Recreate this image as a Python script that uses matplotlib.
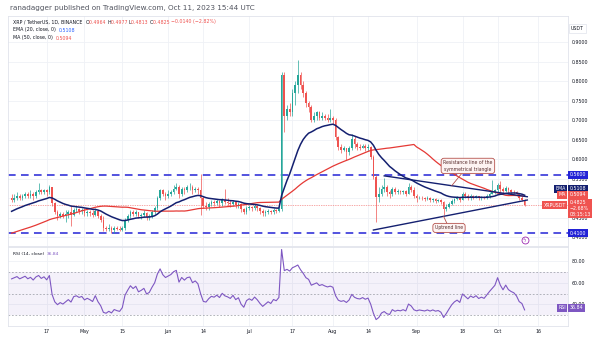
import matplotlib
matplotlib.use("Agg")
import matplotlib.pyplot as plt
import matplotlib.dates as mdates
import matplotlib.transforms as mtransforms
import numpy as np
import pandas as pd

# closes Feb 14 - Apr 3 2023, only used to warm up EMA / MA / RSI
warmup_close = [
    0.385, 0.395, 0.390, 0.395, 0.395, 0.400, 0.395, 0.390, 0.385, 0.385, 0.380, 0.375, 0.380, 0.375, 0.375,
    0.380, 0.375, 0.370, 0.375, 0.375, 0.380, 0.375, 0.370, 0.360, 0.355, 0.360, 0.370, 0.370, 0.375, 0.370, 0.375,
    0.385, 0.390, 0.400, 0.420, 0.450, 0.440, 0.455, 0.440, 0.445, 0.450, 0.440, 0.470, 0.530, 0.520, 0.535,
    0.520, 0.510, 0.500,
]

# daily XRP/USDT candles Apr 4 - Oct 11 2023 (open = previous close)
close = [
    # Apr 4-30
    0.495, 0.500, 0.505, 0.500, 0.505, 0.510, 0.505, 0.510, 0.505, 0.515, 0.520, 0.515, 0.520, 0.515, 0.528,
    0.488, 0.465, 0.455, 0.460, 0.455, 0.460, 0.465, 0.458, 0.470, 0.472, 0.468, 0.470,
    # May
    0.462, 0.465, 0.462, 0.458, 0.468, 0.455, 0.445, 0.425, 0.422, 0.425, 0.420, 0.425, 0.422, 0.420, 0.425,
    0.445, 0.455, 0.465, 0.460, 0.465, 0.455, 0.458, 0.462, 0.452, 0.455, 0.465, 0.475, 0.500, 0.520, 0.510, 0.505,
    # Jun
    0.510, 0.515, 0.525, 0.530, 0.510, 0.525, 0.520, 0.528, 0.530, 0.520, 0.525, 0.520, 0.500, 0.480, 0.478,
    0.485, 0.490, 0.488, 0.492, 0.487, 0.495, 0.490, 0.488, 0.485, 0.490, 0.482, 0.485, 0.472, 0.465, 0.475,
    # Jul
    0.478, 0.475, 0.480, 0.475, 0.468, 0.462, 0.465, 0.468, 0.465, 0.470, 0.468, 0.472, 0.816, 0.710, 0.730,
    0.720, 0.770, 0.790, 0.815, 0.790, 0.770, 0.745, 0.735, 0.700, 0.710, 0.720, 0.705, 0.712, 0.705, 0.700, 0.705,
    # Aug
    0.700, 0.658, 0.632, 0.625, 0.628, 0.618, 0.628, 0.652, 0.638, 0.632, 0.630, 0.635, 0.628, 0.632, 0.606,
    0.555, 0.503, 0.510, 0.525, 0.530, 0.515, 0.510, 0.525, 0.515, 0.518, 0.515, 0.518, 0.512, 0.530, 0.522, 0.505,
    # Sep
    0.500, 0.502, 0.500, 0.498, 0.500, 0.496, 0.498, 0.494, 0.495, 0.490, 0.472, 0.478, 0.485, 0.492, 0.497,
    0.500, 0.495, 0.510, 0.505, 0.500, 0.505, 0.502, 0.505, 0.500, 0.502, 0.500, 0.505, 0.510, 0.515, 0.520,
    # Oct 1-11
    0.535, 0.525, 0.518, 0.527, 0.520, 0.517, 0.515, 0.510, 0.500, 0.4964, 0.4825,
]
high = [
    0.510, 0.510, 0.515, 0.510, 0.510, 0.515, 0.515, 0.520, 0.515, 0.520, 0.540, 0.525, 0.525, 0.525, 0.535,
    0.530, 0.490, 0.470, 0.465, 0.465, 0.470, 0.470, 0.480, 0.475, 0.480, 0.475, 0.475,
    0.475, 0.470, 0.470, 0.470, 0.475, 0.470, 0.460, 0.455, 0.430, 0.435, 0.430, 0.430, 0.430, 0.428, 0.430,
    0.450, 0.460, 0.470, 0.470, 0.470, 0.465, 0.463, 0.470, 0.465, 0.460, 0.470, 0.480, 0.505, 0.525, 0.525, 0.515,
    0.520, 0.520, 0.535, 0.540, 0.535, 0.530, 0.530, 0.535, 0.540, 0.535, 0.530, 0.530, 0.562, 0.505, 0.490,
    0.490, 0.495, 0.495, 0.497, 0.495, 0.500, 0.524, 0.500, 0.495, 0.495, 0.492, 0.490, 0.488, 0.475, 0.480,
    0.482, 0.480, 0.485, 0.483, 0.478, 0.472, 0.470, 0.472, 0.470, 0.475, 0.472, 0.478, 0.825, 0.825, 0.740,
    0.745, 0.780, 0.800, 0.855, 0.825, 0.800, 0.775, 0.750, 0.740, 0.720, 0.725, 0.725, 0.720, 0.715, 0.715, 0.730,
    0.710, 0.705, 0.660, 0.640, 0.635, 0.630, 0.635, 0.665, 0.660, 0.645, 0.640, 0.640, 0.638, 0.640, 0.635,
    0.610, 0.560, 0.530, 0.535, 0.552, 0.535, 0.520, 0.530, 0.528, 0.525, 0.520, 0.522, 0.520, 0.540, 0.535, 0.528,
    0.510, 0.506, 0.505, 0.503, 0.505, 0.503, 0.502, 0.500, 0.498, 0.497, 0.492, 0.485, 0.490, 0.497, 0.500,
    0.505, 0.503, 0.515, 0.515, 0.510, 0.510, 0.508, 0.508, 0.507, 0.505, 0.505, 0.510, 0.515, 0.547, 0.525,
    0.540, 0.545, 0.530, 0.532, 0.530, 0.525, 0.520, 0.518, 0.512, 0.505, 0.4977,
]
low = [
    0.490, 0.490, 0.495, 0.495, 0.495, 0.500, 0.500, 0.500, 0.495, 0.500, 0.510, 0.510, 0.510, 0.505, 0.510,
    0.480, 0.460, 0.445, 0.450, 0.450, 0.440, 0.450, 0.430, 0.455, 0.465, 0.460, 0.460,
    0.455, 0.455, 0.455, 0.452, 0.455, 0.450, 0.440, 0.415, 0.415, 0.415, 0.410, 0.410, 0.418, 0.415, 0.415,
    0.420, 0.440, 0.450, 0.455, 0.455, 0.450, 0.448, 0.452, 0.445, 0.445, 0.450, 0.460, 0.470, 0.495, 0.505, 0.495,
    0.500, 0.505, 0.510, 0.520, 0.500, 0.505, 0.510, 0.515, 0.520, 0.510, 0.515, 0.510, 0.457, 0.475, 0.470,
    0.470, 0.480, 0.480, 0.482, 0.478, 0.480, 0.485, 0.480, 0.478, 0.480, 0.475, 0.475, 0.465, 0.460, 0.460,
    0.470, 0.468, 0.470, 0.468, 0.460, 0.455, 0.455, 0.460, 0.460, 0.460, 0.462, 0.465, 0.468, 0.670, 0.700,
    0.710, 0.710, 0.740, 0.770, 0.780, 0.760, 0.735, 0.720, 0.695, 0.695, 0.700, 0.700, 0.700, 0.700, 0.695, 0.695,
    0.690, 0.650, 0.625, 0.615, 0.620, 0.598, 0.610, 0.625, 0.630, 0.625, 0.625, 0.628, 0.622, 0.620, 0.600,
    0.550, 0.440, 0.490, 0.505, 0.515, 0.505, 0.500, 0.505, 0.510, 0.510, 0.510, 0.510, 0.505, 0.510, 0.515, 0.500,
    0.490, 0.497, 0.495, 0.493, 0.495, 0.490, 0.490, 0.488, 0.490, 0.485, 0.457, 0.468, 0.475, 0.482, 0.487,
    0.495, 0.490, 0.495, 0.500, 0.495, 0.495, 0.497, 0.500, 0.495, 0.495, 0.497, 0.497, 0.500, 0.510, 0.510,
    0.515, 0.515, 0.510, 0.515, 0.512, 0.510, 0.510, 0.505, 0.495, 0.492, 0.4813,
]

support_levels = [0.56, 0.41]
last_price = 0.4825
rsi_last = 36.84  # value shown by the chart
# drawn trendlines: (date, price) endpoints
resistance_line = [("2023-08-20", 0.5575), ("2023-10-12", 0.504)]
uptrend_line = [("2023-08-16", 0.4187), ("2023-10-12", 0.4956)]

tick_dates = ["2023-04-17", "2023-05-01", "2023-05-15", "2023-06-01", "2023-06-14", "2023-07-01", "2023-07-17",
              "2023-08-01", "2023-08-14", "2023-09-01", "2023-09-18", "2023-10-01", "2023-10-16"]
tick_labels = ["17", "May", "15", "Jun", "14", "Jul", "17", "Aug", "14", "Sep", "18", "Oct", "16"]
price_ticks = [0.40, 0.45, 0.50, 0.55, 0.60, 0.65, 0.70, 0.75, 0.80, 0.85, 0.90]
rsi_ticks = [40, 60, 80]

GREEN, RED = "#26a69a", "#ef5350"
BLUE = "#2323d6"
NAVY = "#142070"
PURPLE = "#7e57c2"
GRID = "#eff1f6"
TXT = "#131722"

# indicators from the closes
full = pd.Series(warmup_close + close, dtype=float)
ema20 = full.ewm(span=20, adjust=False).mean().values[len(warmup_close):]
ma50 = full.rolling(50).mean().values[len(warmup_close):]
delta = full.diff()
gain = delta.clip(lower=0).ewm(alpha=1 / 14, adjust=False).mean()
loss = (-delta.clip(upper=0)).ewm(alpha=1 / 14, adjust=False).mean()
rsi = (100 - 100 / (1 + gain / loss)).values[len(warmup_close):]

dates = pd.date_range("2023-04-04", periods=len(close), freq="D")
x = mdates.date2num(dates)
c = np.array(close)
o = np.array([warmup_close[-1]] + close[:-1])
h = np.maximum(np.array(high), np.maximum(o, c))
l = np.minimum(np.array(low), np.minimum(o, c))
up = c >= o
cols = np.where(up, GREEN, RED)

W, H = 600, 342
fig = plt.figure(figsize=(6, 3.42), dpi=100)
fig.patch.set_facecolor("white")
ax = fig.add_axes([8 / W, 96 / H, 560 / W, 230 / H])
rax = fig.add_axes([8 / W, 16 / H, 560 / W, 79 / H], sharex=ax)

x0 = mdates.date2num(pd.Timestamp("2023-04-17"))
ax.set_xlim(x0 - 14.33, x0 + 193.07)
ax.set_ylim(0.3777, 0.9674)
rax.set_ylim(19.8, 93.3)

tx = mdates.date2num(pd.to_datetime(tick_dates))
for a in (ax, rax):
    for s in a.spines.values():
        s.set_color("#e0e3eb")
        s.set_linewidth(0.6)
    a.yaxis.tick_right()
    a.tick_params(length=0, labelsize=3.4, colors=TXT, pad=2.6)
    for t in tx:
        a.axvline(t, color=GRID, lw=0.6, zorder=0)
ax.tick_params(axis="x", labelbottom=False)
for p in price_ticks:
    ax.axhline(p, color=GRID, lw=0.6, zorder=0)
for r in rsi_ticks:
    rax.axhline(r, color=GRID, lw=0.6, zorder=0)

ax.set_yticks(price_ticks)
ax.set_yticklabels(["%.4f" % p for p in price_ticks])
rax.set_yticks(rsi_ticks)
rax.set_yticklabels(["%.2f" % r for r in rsi_ticks])
rax.set_xticks(tx)
rax.set_xticklabels(tick_labels)
rax.tick_params(axis="x", pad=2.5)

# candles
ax.vlines(x, l, h, colors=cols, lw=0.5, zorder=3)
ax.bar(x, np.maximum(np.abs(c - o), 0.0008), bottom=np.minimum(o, c), width=0.62, color=cols, lw=0, zorder=4)

ax.plot(x, ma50, color="#e53935", lw=0.9, zorder=5)
ax.plot(x, ema20, color=NAVY, lw=1.1, zorder=5)

for lvl in support_levels:
    ax.axhline(lvl, color=BLUE, lw=1.1, dashes=(5, 3.5), zorder=2)
ax.axhline(last_price, color=RED, lw=0.5, ls=(0, (1, 1.5)), zorder=2)

for line in (resistance_line, uptrend_line):
    lx = mdates.date2num(pd.to_datetime([p[0] for p in line]))
    ax.plot(lx, [p[1] for p in line], color=NAVY, lw=1.0, zorder=6)

box = dict(boxstyle="round,pad=0.45,rounding_size=0.6", fc="#fdf3f2", ec="#b5524d", lw=0.6)
arrow = dict(arrowstyle="-", color="#b5524d", lw=0.6, shrinkA=0, shrinkB=0)
rx = mdates.date2num(pd.to_datetime([p[0] for p in resistance_line]))
ux = mdates.date2num(pd.to_datetime([p[0] for p in uptrend_line]))
px_r = mdates.date2num(pd.Timestamp("2023-09-14"))
px_u = mdates.date2num(pd.Timestamp("2023-09-11"))
ax.annotate("Resistance line of the\nsymmetrical triangle",
            xy=(px_r, np.interp(px_r, rx, [p[1] for p in resistance_line])),
            xytext=(mdates.date2num(pd.Timestamp("2023-09-20")), 0.583),
            fontsize=3.3, color="#5a2e2e", ha="center", va="center", bbox=box, arrowprops=arrow,
            zorder=8, linespacing=1.3)
ax.annotate("Uptrend line",
            xy=(px_u, np.interp(px_u, ux, [p[1] for p in uptrend_line])),
            xytext=(mdates.date2num(pd.Timestamp("2023-09-13")), 0.424),
            fontsize=3.3, color="#5a2e2e", ha="center", va="center", bbox=box, arrowprops=arrow, zorder=8)

# small event marker near the bottom
ax.plot([x[-1]], [0.393], marker="o", ms=5, mfc="white", mec="#9c27b0", mew=0.6, zorder=7, clip_on=False)
ax.text(x[-1], 0.393, "ϟ", fontsize=3.6, color="#9c27b0", ha="center", va="center", zorder=8)

# price scale tags
ptr = mtransforms.blended_transform_factory(ax.transAxes, ax.transData)
rtr = mtransforms.blended_transform_factory(rax.transAxes, rax.transData)


def tag(a, tr, xf, y, s, fc, ha="left", tc="white", pad=0.3):
    a.text(xf, y, s, transform=tr, fontsize=3.4, color=tc, ha=ha, va="center", clip_on=False, zorder=9,
           linespacing=1.2, bbox=dict(boxstyle="square,pad=%.2f" % pad, fc=fc, ec="none"))


tag(ax, ptr, 1.003, 0.56, "0.5600", BLUE)
tag(ax, ptr, 1.003, 0.41, "0.4100", BLUE)
tag(ax, ptr, 0.996, 0.5248, "EMA", NAVY, ha="right")
tag(ax, ptr, 1.003, 0.5248, "0.5108", NAVY)
tag(ax, ptr, 0.996, 0.5092, "MA", RED, ha="right")
tag(ax, ptr, 1.003, 0.5092, "0.5094", RED)
tag(ax, ptr, 0.996, 0.4825, "XRPUSDT", RED, ha="right")
tag(ax, ptr, 1.003, 0.4738, "0.4825\n\u22122.68%\n08:15:13", RED, pad=0.25)
ax.text(1.005, 0.945, "USDT", transform=ax.transAxes, fontsize=3.4, color=TXT, ha="left", va="center",
        clip_on=False, bbox=dict(boxstyle="square,pad=0.4", fc="white", ec="#e0e3eb", lw=0.5))

# RSI pane
rax.axhspan(30, 70, color=PURPLE, alpha=0.08, lw=0, zorder=1)
for lvl in (70, 50, 30):
    rax.axhline(lvl, color="#9598a1", lw=0.5, dashes=(2.5, 2.5), zorder=2)
rax.plot(x, rsi, color=PURPLE, lw=0.8, zorder=4)
tag(rax, rtr, 0.996, rsi_last, "RSI", PURPLE, ha="right")
tag(rax, rtr, 1.003, rsi_last, "%.2f" % rsi_last, PURPLE)

# header text, chained so each part follows the previous one
renderer = fig.canvas.get_renderer()


def chain(x_px, y_px, parts, size):
    xf = x_px / W
    for s, col in parts:
        t = fig.text(xf, 1 - y_px / H, s, fontsize=size, color=col, va="center", ha="left")
        xf += t.get_window_extent(renderer).width / fig.bbox.width


chain(10, 8, [("ranadagger published on TradingView.com, Oct 11, 2023 15:44 UTC", "#50535e")], 5.2)
chain(13, 22, [("XRP / TetherUS, 1D, BINANCE  ", TXT), ("O", TXT), ("0.4964 ", RED), ("H", TXT), ("0.4977 ", RED),
               ("L", TXT), ("0.4813 ", RED), ("C", TXT), ("0.4825 ", RED), ("\u22120.0140 (\u22122.82%)", RED)], 3.4)
chain(13, 30, [("EMA (20, close, 0)  ", TXT), ("0.5108", "#2962ff")], 3.4)
chain(13, 38, [("MA (50, close, 0)  ", TXT), ("0.5094", RED)], 3.4)
chain(13, 254, [("RSI (14, close)  ", TXT), ("%.2f" % rsi_last, PURPLE)], 3.2)

fig.savefig("out.png", dpi=100, facecolor="white")
